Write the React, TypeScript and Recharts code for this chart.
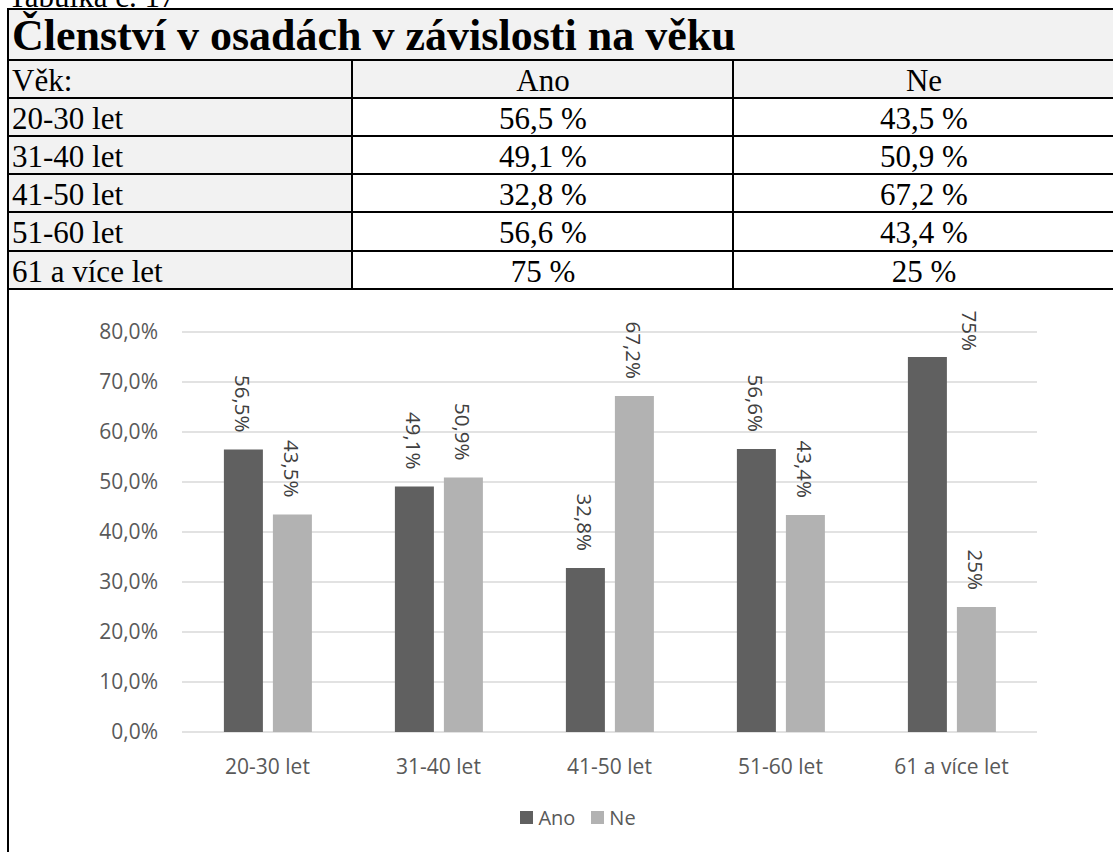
import React from 'react';
import { BarChart, Bar, XAxis, YAxis, CartesianGrid, Legend, LabelList } from 'recharts';

const caption = 'Tabulka č. 17';
const tableTitle = 'Členství v osadách v závislosti na věku';
const headerLabel = 'Věk:';
const categories = ['20-30 let', '31-40 let', '41-50 let', '51-60 let', '61 a více let'];
const seriesNames = ['Ano', 'Ne'];
const anoValues = [56.5, 49.1, 32.8, 56.6, 75];
const neValues = [43.5, 50.9, 67.2, 43.4, 25];
const yTicks = [0, 10, 20, 30, 40, 50, 60, 70, 80];

const SERIF = '"Liberation Serif", "Times New Roman", serif';
const SANS = '"Open Sans", "Noto Sans", sans-serif';
const ANO_COLOR = '#606060';
const NE_COLOR = '#b2b2b2';
const TABLE_FONT = 31;

const fmtNum = (v: number) => (Number.isInteger(v) ? String(v) : v.toFixed(1).replace('.', ','));
const fmtTick = (v: number) => v.toFixed(1).replace('.', ',') + '%';
const fmtLabel = (v: number) => fmtNum(v) + '%';

const chartData = categories.map((c, i) => ({ name: c, Ano: anoValues[i], Ne: neValues[i] }));

// table geometry
const hLines = [9, 60, 98, 136, 174, 212, 251, 289];
const colLines = [8, 352, 733, 1114];

const CHART_TOP = 290;
const MARGIN = { top: 42, right: 76, left: 0, bottom: 20 };
const LABEL_FONT = 20.5;
const TICK_FONT = 21;

const charW: Record<string, number> = { ',': 0.26, '%': 0.86 };
const textLen = (s: string) => s.split('').reduce((a, ch) => a + (charW[ch] ?? 0.572), 0) * LABEL_FONT;

const BarLabel = (props: any) => {
  const { x, y, width, value } = props;
  const text = fmtLabel(Number(value));
  const cx = Number(x) + Number(width) / 2;
  let ax = cx;
  let ay = Number(y) - 17;
  const limit = MARGIN.top - 19;
  if (ay - textLen(text) < limit) {
    ax = cx + Number(width) + 4;
    ay = Number(y) - 6;
  }
  return (
    <text
      x={ax}
      y={ay}
      transform={`rotate(90 ${ax} ${ay})`}
      textAnchor="end"
      dominantBaseline="central"
      fontFamily={SANS}
      fontSize={LABEL_FONT}
      fill="#404040"
    >
      {text}
    </text>
  );
};

const renderLegend = (props: any) => {
  const payload = props.payload || [];
  return (
    <div
      style={{
        display: 'flex',
        justifyContent: 'center',
        alignItems: 'center',
        height: 30,
        fontFamily: SANS,
        fontSize: 20,
        color: '#595959',
      }}
    >
      {payload.map((p: any, i: number) => (
        <span key={i} style={{ display: 'flex', alignItems: 'center', marginLeft: i ? 16 : 0 }}>
          <span style={{ width: 13, height: 13, background: p.color, marginRight: 5, display: 'inline-block' }} />
          {p.value}
        </span>
      ))}
    </div>
  );
};

const Cell = ({ left, top, width, height, bg, align, children, style }: any) => (
  <div
    style={{
      position: 'absolute',
      left,
      top,
      width,
      height,
      background: bg,
      display: 'flex',
      alignItems: 'center',
      justifyContent: align === 'center' ? 'center' : 'flex-start',
      paddingLeft: align === 'center' ? 0 : 3,
      boxSizing: 'border-box',
      fontFamily: SERIF,
      fontSize: TABLE_FONT,
      lineHeight: 1,
      color: '#000',
      whiteSpace: 'nowrap',
      overflow: 'hidden',
      ...style,
    }}
  >
    {children}
  </div>
);

export default function App() {
  const rows = categories.map((c, i) => [c, fmtNum(anoValues[i]) + ' %', fmtNum(neValues[i]) + ' %']);
  return (
    <div
      style={{
        position: 'absolute',
        left: 0,
        top: 0,
        width: 1113,
        height: 852,
        overflow: 'hidden',
        background: '#fff',
      }}
    >
      <div
        style={{
          position: 'absolute',
          left: 8,
          top: -20,
          fontFamily: SERIF,
          fontSize: TABLE_FONT,
          lineHeight: '34px',
          whiteSpace: 'nowrap',
        }}
      >
        {caption}
      </div>

      {/* title row */}
      <Cell left={9} top={10} width={1104} height={50} bg="#f2f2f2" style={{ fontSize: 44, fontWeight: 'bold', paddingLeft: 3, paddingTop: 2 }}>
        {tableTitle}
      </Cell>
      {/* header row */}
      <Cell left={9} top={61} width={343} height={37} bg="#f2f2f2" style={{ paddingTop: 2 }}>
        {headerLabel}
      </Cell>
      <Cell left={353} top={61} width={380} height={37} bg="#f2f2f2" align="center" style={{ paddingTop: 2 }}>
        {seriesNames[0]}
      </Cell>
      <Cell left={734} top={61} width={380} height={37} bg="#f2f2f2" align="center" style={{ paddingTop: 2 }}>
        {seriesNames[1]}
      </Cell>
      {rows.map((r, i) => {
        const top = hLines[i + 2] + 1;
        const h = hLines[i + 3] - hLines[i + 2] - 2;
        return (
          <React.Fragment key={i}>
            <Cell left={9} top={top} width={343} height={h} bg="#f2f2f2" style={{ paddingTop: 2 }}>
              {r[0]}
            </Cell>
            <Cell left={353} top={top} width={380} height={h} bg="#fff" align="center" style={{ paddingTop: 2 }}>
              {r[1]}
            </Cell>
            <Cell left={734} top={top} width={380} height={h} bg="#fff" align="center" style={{ paddingTop: 2 }}>
              {r[2]}
            </Cell>
          </React.Fragment>
        );
      })}

      {hLines.map((y, i) => (
        <div key={'h' + i} style={{ position: 'absolute', left: 7, top: y - 1, width: 1110, height: 2, background: '#000' }} />
      ))}
      <div style={{ position: 'absolute', left: 7, top: 8, width: 2, height: 860, background: '#000' }} />
      {colLines.slice(1).map((x, i) => (
        <div
          key={'v' + i}
          style={{ position: 'absolute', left: x - 1, top: hLines[1], width: 2, height: hLines[7] - hLines[1], background: '#000' }}
        />
      ))}

      <div style={{ position: 'absolute', left: 0, top: CHART_TOP }}>
        <BarChart
          width={1113}
          height={562}
          data={chartData}
          margin={MARGIN}
          barCategoryGap="24.5%"
          barGap={10}
        >
          <CartesianGrid vertical={false} stroke="#d9d9d9" strokeWidth={1.5} />
          <XAxis
            dataKey="name"
            axisLine={false}
            tickLine={false}
            tickSize={0}
            tickMargin={27}
            height={70}
            tick={{ fontFamily: SANS, fontSize: TICK_FONT, fill: '#595959' }}
            interval={0}
          />
          <YAxis
            domain={[0, 80]}
            ticks={yTicks}
            tickFormatter={fmtTick}
            axisLine={false}
            tickLine={false}
            tickSize={0}
            tickMargin={24}
            width={182}
            tick={{ fontFamily: SANS, fontSize: TICK_FONT, fill: '#595959' }}
            interval={0}
          />
          <Legend
            verticalAlign="bottom"
            content={renderLegend}
            wrapperStyle={{ left: 478, width: 200 }}
          />
          <Bar dataKey="Ano" name={seriesNames[0]} fill={ANO_COLOR} isAnimationActive={false}>
            <LabelList dataKey="Ano" content={BarLabel} />
          </Bar>
          <Bar dataKey="Ne" name={seriesNames[1]} fill={NE_COLOR} isAnimationActive={false}>
            <LabelList dataKey="Ne" content={BarLabel} />
          </Bar>
        </BarChart>
      </div>
    </div>
  );
}
